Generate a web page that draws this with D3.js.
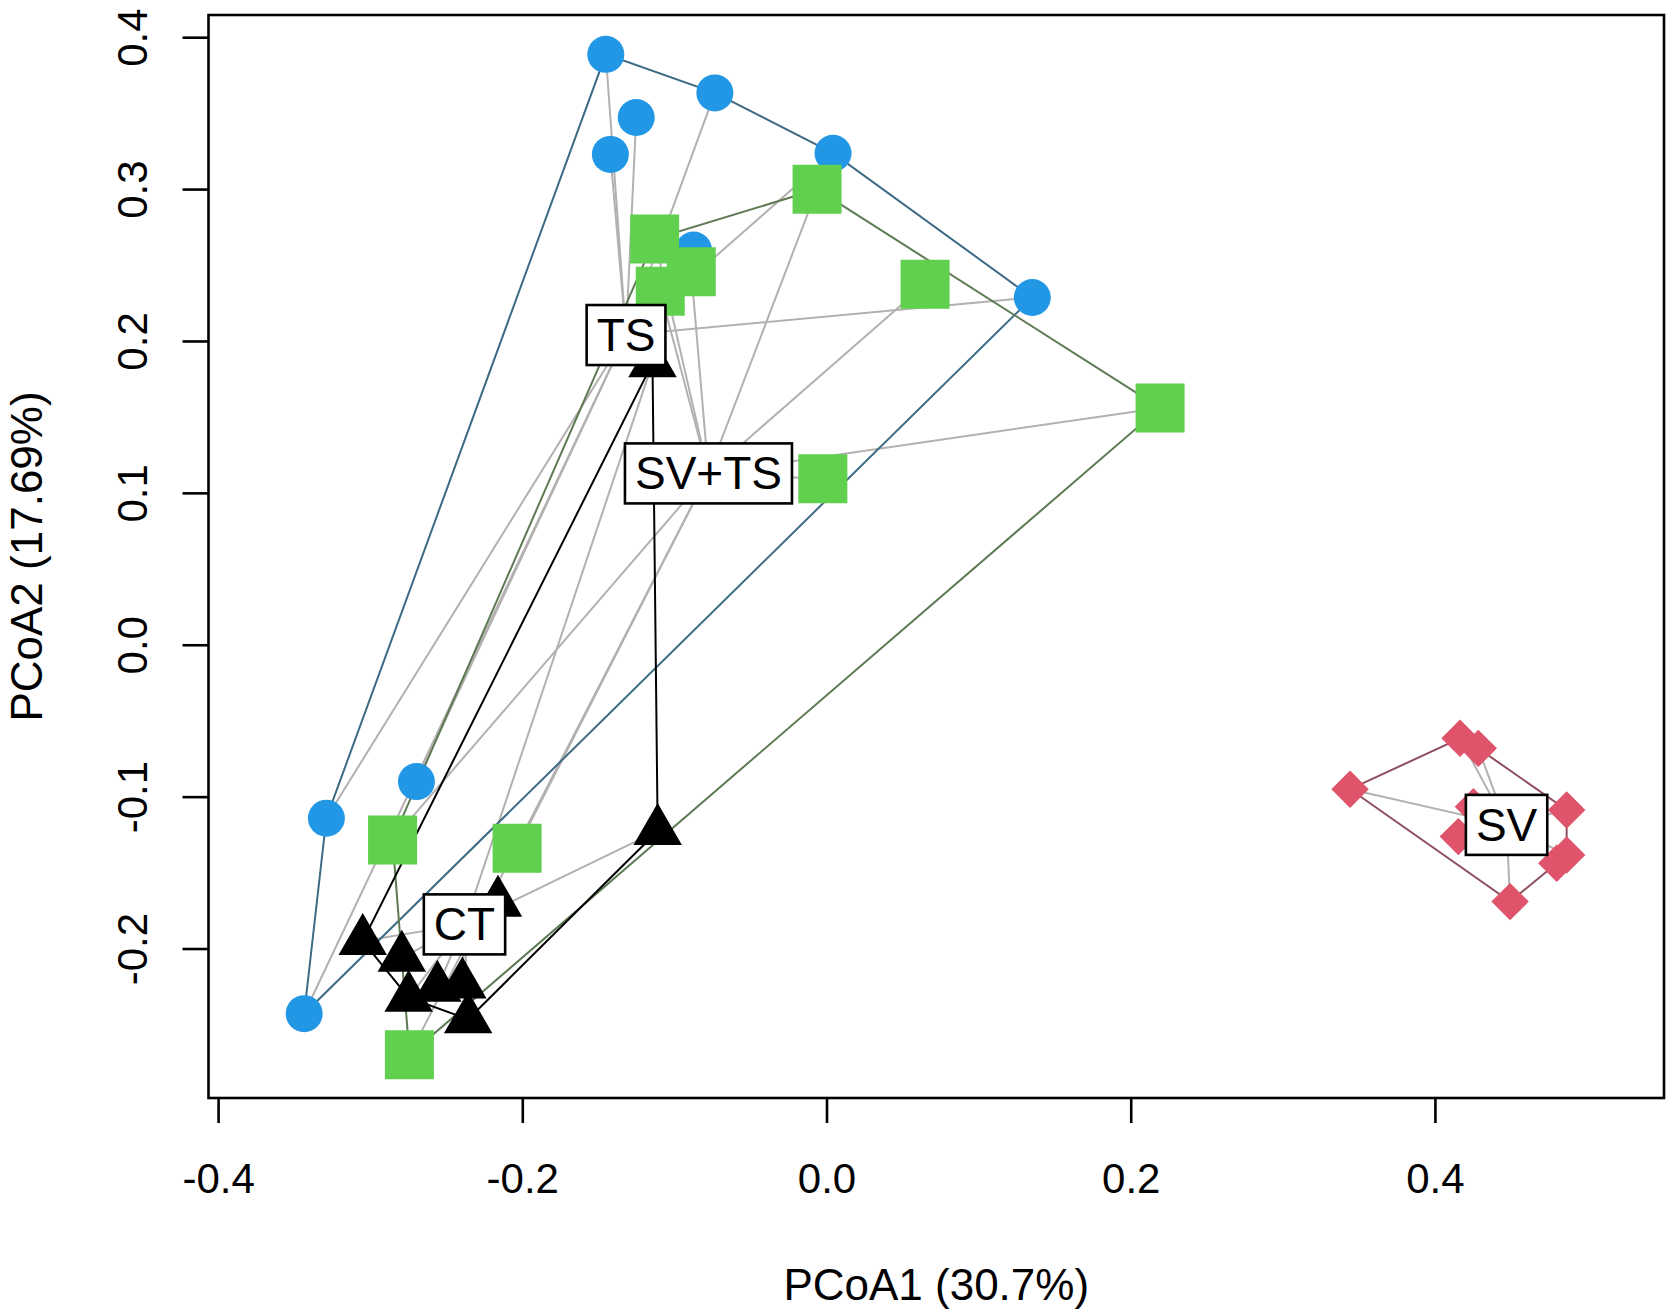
<!DOCTYPE html>
<html>
<head>
<meta charset="utf-8">
<script src="https://cdn.jsdelivr.net/npm/d3@7"></script>
<style>
  body { margin: 0; background: #fff; }
  text { font-family: "Liberation Sans", Arial, sans-serif; }
</style>
</head>
<body>
<div id="chart"></div>
<script>
// PCoA scores, one pair of arrays per group
var tsPC1 = [-0.1451, -0.0734, -0.1251, -0.1421, 0.0043, -0.0874, 0.1353, -0.2696, -0.3288, -0.3434];
var tsPC2 = [0.3887, 0.3633, 0.3471, 0.3228, 0.3236, 0.2599, 0.2286, -0.0901, -0.1142, -0.2429];

var svtsPC1 = [-0.0062, -0.1130, -0.0889, -0.1093, 0.0648, 0.2193, -0.0024, -0.2853, -0.2034, -0.2742];
var svtsPC2 = [0.2998, 0.2672, 0.2455, 0.2328, 0.2374, 0.1559, 0.1093, -0.1285, -0.1340, -0.2700];

var ctPC1 = [-0.3049, -0.2792, -0.2747, -0.2558, -0.2394, -0.2356, -0.2160, -0.1110, -0.1144];
var ctPC2 = [-0.1951, -0.2061, -0.2324, -0.2258, -0.2236, -0.2466, -0.1698, -0.1226, 0.1854];

var svPC1 = [0.3442, 0.4165, 0.4285, 0.4866, 0.4801, 0.4866, 0.4494, 0.4154, 0.4253];
var svPC2 = [-0.0951, -0.0616, -0.0682, -0.1088, -0.1439, -0.1384, -0.1691, -0.1263, -0.1066];

// group centres (where the spiders meet and the labels sit)
var groupNames = ["TS", "SV+TS", "CT", "SV"];
var centrePC1 = [-0.1318, -0.0776, -0.2380, 0.4471];
var centrePC2 = [0.2039, 0.1128, -0.1841, -0.1186];

var xTicks = [-0.4, -0.2, 0.0, 0.2, 0.4];
var yTicks = [-0.2, -0.1, 0.0, 0.1, 0.2, 0.3, 0.4];

var width = 1675, height = 1313;
var box = { left: 208.5, right: 1664, top: 15, bottom: 1098 };

var svg = d3.select("#chart").append("svg")
    .attr("width", width)
    .attr("height", height);

var x = d3.scaleLinear().domain([-0.4063, 0.5506]).range([box.left, box.right]);
var y = d3.scaleLinear().domain([-0.2984, 0.4146]).range([box.bottom, box.top]);

// R-style diamond (square turned 45 degrees)
var rDiamond = {
    draw: function (context, size) {
        var r = Math.sqrt(size / 2);
        context.moveTo(0, -r);
        context.lineTo(r, 0);
        context.lineTo(0, r);
        context.lineTo(-r, 0);
        context.closePath();
    }
};

var groups = [
    { name: "TS", px: tsPC1, py: tsPC2, col: "#2297E6", hull: "#3d6a85", sym: d3.symbolCircle, size: 1075 },
    { name: "SV+TS", px: svtsPC1, py: svtsPC2, col: "#61D04F", hull: "#5e7a55", sym: d3.symbolSquare, size: 2401 },
    { name: "CT", px: ctPC1, py: ctPC2, col: "#000000", hull: "#000000", sym: d3.symbolTriangle, size: 1018 },
    { name: "SV", px: svPC1, py: svPC2, col: "#DF536B", hull: "#8e4e5e", sym: rDiamond, size: 700 }
];

groups.forEach(function (g) {
    var i = groupNames.indexOf(g.name);
    g.cx = centrePC1[i];
    g.cy = centrePC2[i];
    g.points = g.px.map(function (v, j) { return [v, g.py[j]]; });
});

// spider lines
var spider = svg.append("g").attr("class", "spider");
groups.forEach(function (g) {
    spider.selectAll(null)
        .data(g.points)
        .enter().append("line")
        .attr("x1", function (d) { return x(d[0]); })
        .attr("y1", function (d) { return y(d[1]); })
        .attr("x2", x(g.cx))
        .attr("y2", y(g.cy))
        .attr("stroke", "#b4b0b0")
        .attr("stroke-width", 2);
});

// hulls
var hulls = svg.append("g").attr("class", "hulls");
groups.forEach(function (g) {
    var h = d3.polygonHull(g.points.map(function (d) { return [x(d[0]), y(d[1])]; }));
    hulls.append("path")
        .attr("d", "M" + h.join("L") + "Z")
        .attr("fill", "none")
        .attr("stroke", g.hull)
        .attr("stroke-width", 2);
});

// points
var pts = svg.append("g").attr("class", "points");
groups.forEach(function (g) {
    var sym = d3.symbol().type(g.sym).size(g.size);
    pts.selectAll(null)
        .data(g.points)
        .enter().append("path")
        .attr("d", sym)
        .attr("transform", function (d) { return "translate(" + x(d[0]) + "," + y(d[1]) + ")"; })
        .attr("fill", g.col);
});

// group labels in boxes
var labels = svg.append("g").attr("class", "labels");
groups.forEach(function (g) {
    var lg = labels.append("g")
        .attr("transform", "translate(" + x(g.cx) + "," + y(g.cy) + ")");
    var rect = lg.append("rect");
    var t = lg.append("text")
        .attr("text-anchor", "middle")
        .attr("y", 16)
        .attr("font-size", 46)
        .attr("fill", "#000")
        .text(g.name);
    var w = t.node().getComputedTextLength() + 20;
    rect.attr("x", -w / 2).attr("y", -30)
        .attr("width", w).attr("height", 60)
        .attr("fill", "#fff")
        .attr("stroke", "#000")
        .attr("stroke-width", 2.6);
});

// frame
svg.append("rect")
    .attr("x", box.left).attr("y", box.top)
    .attr("width", box.right - box.left)
    .attr("height", box.bottom - box.top)
    .attr("fill", "none")
    .attr("stroke", "#000")
    .attr("stroke-width", 2.6);

// axes
var xAxis = svg.append("g")
    .attr("transform", "translate(0," + box.bottom + ")")
    .call(d3.axisBottom(x).tickValues(xTicks).tickSize(25).tickSizeOuter(0).tickPadding(0)
        .tickFormat(function (d) { return d.toFixed(1); }));

var yAxis = svg.append("g")
    .attr("transform", "translate(" + box.left + ",0)")
    .call(d3.axisLeft(y).tickValues(yTicks).tickSize(26).tickSizeOuter(0).tickPadding(0)
        .tickFormat(function (d) { return d.toFixed(1); }));

[xAxis, yAxis].forEach(function (a) {
    a.select(".domain").remove();
    a.selectAll(".tick line").attr("stroke-width", 2.6);
    a.selectAll("text").attr("font-size", 42).attr("fill", "#000")
        .style("font-family", '"Liberation Sans", Arial, sans-serif');
});

xAxis.selectAll(".tick text")
    .attr("y", 95)
    .attr("dy", null);

yAxis.selectAll(".tick text")
    .attr("x", null)
    .attr("dy", null)
    .attr("text-anchor", "middle")
    .attr("transform", "translate(-62,0) rotate(-90)");

// axis titles
svg.append("text")
    .attr("x", (box.left + box.right) / 2)
    .attr("y", 1300)
    .attr("text-anchor", "middle")
    .attr("font-size", 44)
    .text("PCoA1 (30.7%)");

svg.append("text")
    .attr("transform", "translate(42," + (box.top + box.bottom) / 2 + ") rotate(-90)")
    .attr("text-anchor", "middle")
    .attr("font-size", 44)
    .text("PCoA2 (17.69%)");
</script>
</body>
</html>
